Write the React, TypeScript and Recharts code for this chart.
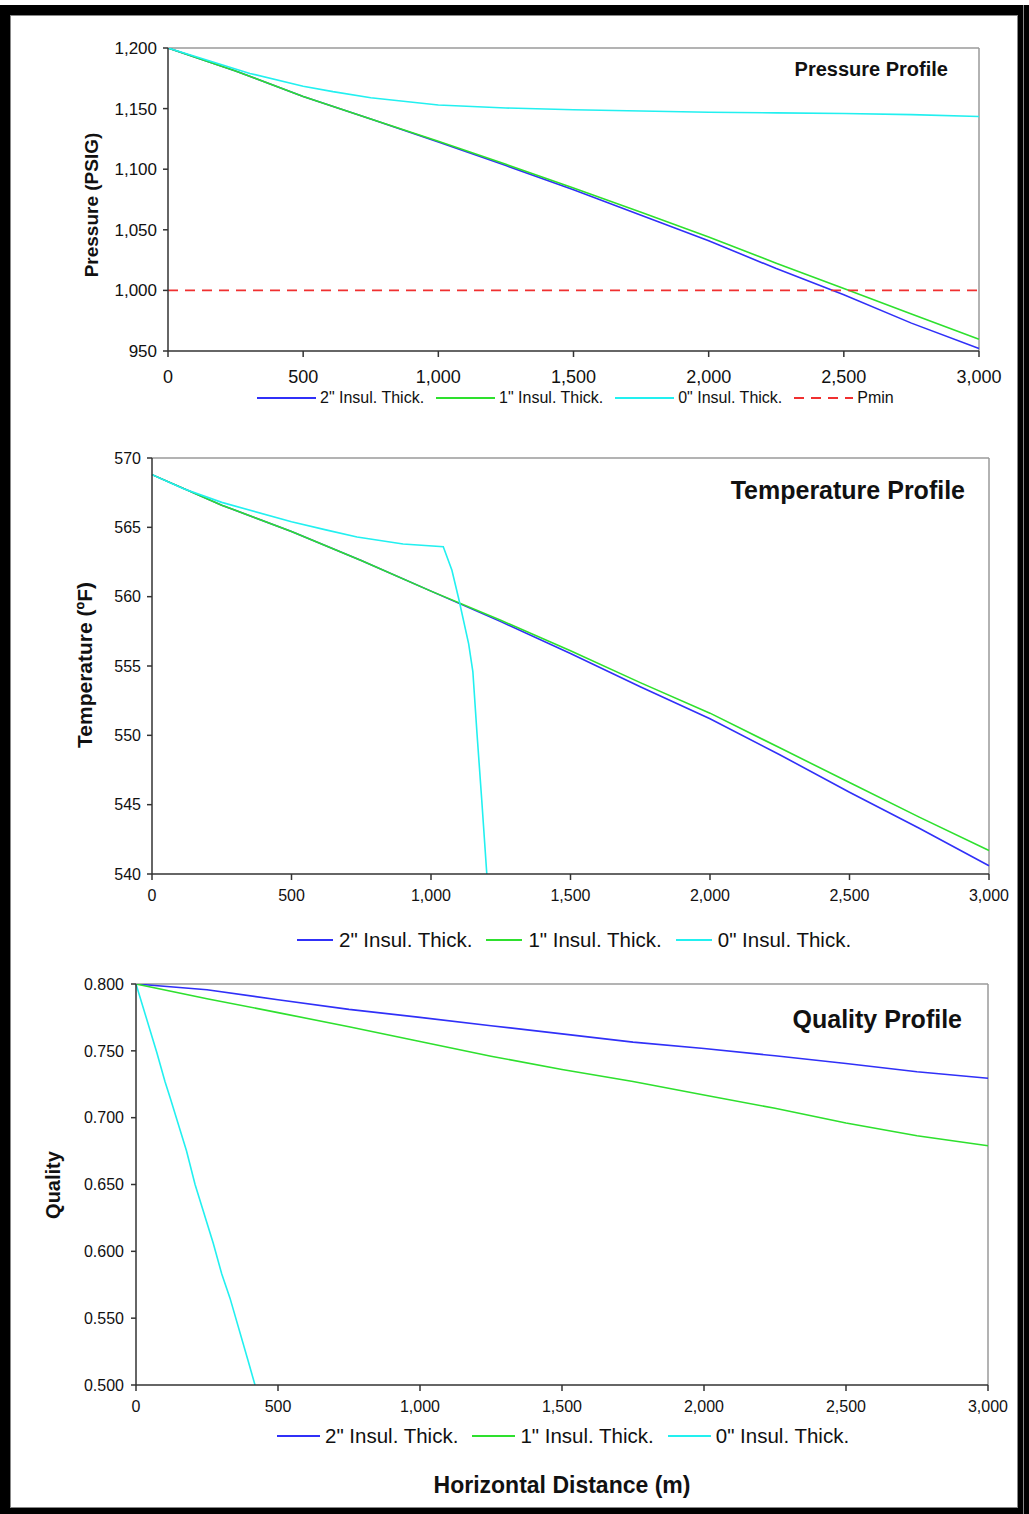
import React from 'react';
import { LineChart, Line, XAxis, YAxis, ReferenceLine } from 'recharts';

const FONT = '"Liberation Sans", Arial, Helvetica, sans-serif';

const BLUE = '#3030f8';
const GREEN = '#2ee02e';
const CYAN = '#22f0f0';
const RED = '#f03030';

// distance along the line (m)
const distance = [0, 250, 500, 750, 1000, 1250, 1500, 1750, 2000, 2250, 2500, 2750, 3000];
const xTicks = [0, 500, 1000, 1500, 2000, 2500, 3000];

// Pressure profile (PSIG)
const pressure2in = [1200, 1181, 1160, 1141.5, 1122.5, 1103, 1083, 1062, 1041, 1018, 996.5, 973, 952];
const pressure1in = [1200, 1181, 1160, 1141.5, 1123, 1104, 1084.5, 1064.5, 1044, 1022.5, 1001.5, 980.5, 959.6];
const pressure0inDist = [0, 303, 500, 610, 750, 1000, 1250, 1500, 1750, 2000, 2250, 2500, 2750, 3000];
const pressure0in = [1200, 1179, 1168.5, 1164, 1159, 1153, 1150.5, 1149, 1148, 1147, 1146.5, 1146, 1145, 1143.5];
const pminDist = [0, 3000];
const pmin = [1000, 1000];
const pressureTicks = [950, 1000, 1050, 1100, 1150, 1200];

// Temperature profile (ºF)
const temp2in = [568.8, 566.6, 564.7, 562.6, 560.4, 558.2, 555.9, 553.5, 551.2, 548.6, 545.9, 543.3, 540.6];
const temp1in = [568.8, 566.6, 564.7, 562.6, 560.4, 558.3, 556.1, 553.8, 551.6, 549.1, 546.6, 544.1, 541.7];
const temp0inDist = [0, 111, 250, 500, 627, 735, 900, 1044, 1075, 1100, 1135, 1150, 1165, 1182, 1200];
const temp0in = [568.8, 567.8, 566.8, 565.4, 564.8, 564.3, 563.8, 563.6, 561.9, 559.8, 556.6, 554.6, 550.1, 545.3, 540];
const tempTicks = [540, 545, 550, 555, 560, 565, 570];

// Quality profile
const quality2in = [0.8, 0.7957, 0.7882, 0.781, 0.775, 0.7688, 0.7627, 0.7565, 0.7517, 0.7463, 0.7405, 0.7343, 0.7295];
const quality1in = [0.8, 0.789, 0.7786, 0.768, 0.757, 0.746, 0.736, 0.727, 0.717, 0.707, 0.696, 0.6865, 0.679];
const quality0inDist = [0, 73, 102, 120, 178, 208, 272, 302, 331, 395, 419];
const quality0in = [0.8, 0.749, 0.727, 0.715, 0.675, 0.65, 0.606, 0.583, 0.565, 0.518, 0.5];
const qualityTicks = [0.5, 0.55, 0.6, 0.65, 0.7, 0.75, 0.8];

const seriesNames = ['2" Insul. Thick.', '1" Insul. Thick.', '0" Insul. Thick.'];

const toPoints = (xs: number[], ys: number[]) => xs.map((x, i) => ({ x, y: ys[i] }));
const comma = (v: number) => v.toLocaleString('en-US');

type Series = { name: string; color: string; dash?: string; data: { x: number; y: number }[] };

type ChartProps = {
  top: number;
  height: number;
  margin: { top: number; right: number; bottom: number; left: number };
  yDomain: [number, number];
  yTicks: number[];
  yFormat: (v: number) => string;
  series: Series[];
  yFont: number;
  xFont: number;
  xTickMargin: number;
  yTickMargin: number;
};

const ProfileChart = ({ top, height, margin, yDomain, yTicks, yFormat, series, yFont, xFont, xTickMargin, yTickMargin }: ChartProps) => (
  <div style={{ position: 'absolute', left: 0, top }}>
    <LineChart width={1029} height={height} margin={margin}>
      <XAxis
        type="number"
        dataKey="x"
        domain={[0, 3000]}
        ticks={xTicks}
        tickFormatter={comma}
        height={30}
        stroke="#333"
        strokeWidth={1.5}
        tickSize={6}
        tickMargin={xTickMargin}
        tick={{ fill: '#111', fontSize: xFont, fontFamily: FONT }}
      />
      <YAxis
        type="number"
        domain={yDomain}
        ticks={yTicks}
        tickFormatter={yFormat}
        width={60}
        stroke="#333"
        strokeWidth={1.5}
        tickSize={5}
        tickMargin={yTickMargin}
        tick={{ fill: '#111', fontSize: yFont, fontFamily: FONT }}
        allowDataOverflow
      />
      <ReferenceLine y={yDomain[1]} stroke="#9a9a9a" strokeWidth={1.5} />
      <ReferenceLine x={3000} stroke="#9a9a9a" strokeWidth={1.5} />
      {series.map((s) => (
        <Line
          key={s.name}
          data={s.data}
          dataKey="y"
          name={s.name}
          type="linear"
          stroke={s.color}
          strokeWidth={1.6}
          strokeDasharray={s.dash}
          dot={false}
          activeDot={false}
          isAnimationActive={false}
        />
      ))}
    </LineChart>
  </div>
);

type LegendProps = { series: Series[]; top: number; left: number; fontSize: number; lineLen: number; gap: number; itemGap: number };

const LegendRow = ({ series, top, left, fontSize, lineLen, gap, itemGap }: LegendProps) => (
  <div
    style={{
      position: 'absolute',
      left,
      top: top - fontSize / 2,
      height: fontSize,
      display: 'flex',
      alignItems: 'center',
      gap: itemGap,
      fontFamily: FONT,
      fontSize,
      lineHeight: `${fontSize}px`,
      color: '#111',
      whiteSpace: 'nowrap',
    }}
  >
    {series.map((s) => (
      <div key={s.name} style={{ display: 'flex', alignItems: 'center', gap }}>
        <svg width={lineLen} height={6}>
          <line x1={0} y1={3} x2={lineLen} y2={3} stroke={s.color} strokeWidth={1.8} strokeDasharray={s.dash} />
        </svg>
        <span>{s.name}</span>
      </div>
    ))}
  </div>
);

const Title = ({ text, right, cy, size }: { text: string; right: number; cy: number; size: number }) => (
  <div
    style={{
      position: 'absolute',
      right: 1029 - right,
      top: cy - size / 2,
      fontFamily: FONT,
      fontWeight: 'bold',
      fontSize: size,
      lineHeight: `${size}px`,
      color: '#111',
      whiteSpace: 'nowrap',
    }}
  >
    {text}
  </div>
);

const YLabel = ({ text, cx, cy, size }: { text: string; cx: number; cy: number; size: number }) => (
  <div
    style={{
      position: 'absolute',
      left: cx,
      top: cy,
      transform: 'translate(-50%, -50%) rotate(-90deg)',
      fontFamily: FONT,
      fontWeight: 'bold',
      fontSize: size,
      lineHeight: `${size}px`,
      color: '#111',
      whiteSpace: 'nowrap',
    }}
  >
    {text}
  </div>
);

const pressureSeries: Series[] = [
  { name: seriesNames[0], color: BLUE, data: toPoints(distance, pressure2in) },
  { name: seriesNames[1], color: GREEN, data: toPoints(distance, pressure1in) },
  { name: seriesNames[2], color: CYAN, data: toPoints(pressure0inDist, pressure0in) },
  { name: 'Pmin', color: RED, dash: '10 7', data: toPoints(pminDist, pmin) },
];

const tempSeries: Series[] = [
  { name: seriesNames[0], color: BLUE, data: toPoints(distance, temp2in) },
  { name: seriesNames[1], color: GREEN, data: toPoints(distance, temp1in) },
  { name: seriesNames[2], color: CYAN, data: toPoints(temp0inDist, temp0in) },
];

const qualitySeries: Series[] = [
  { name: seriesNames[0], color: BLUE, data: toPoints(distance, quality2in) },
  { name: seriesNames[1], color: GREEN, data: toPoints(distance, quality1in) },
  { name: seriesNames[2], color: CYAN, data: toPoints(quality0inDist, quality0in) },
];

export default function App() {
  return (
    <div style={{ position: 'absolute', left: 0, top: 0, width: 1029, height: 1514, background: '#fff', overflow: 'hidden' }}>
      {/* frame */}
      <div style={{ position: 'absolute', left: 0, top: 5, width: 1029, height: 1509, background: '#000' }} />
      <div style={{ position: 'absolute', left: 1023, top: 5, width: 1, height: 1509, background: '#888' }} />
      <div
        style={{
          position: 'absolute',
          left: 10,
          top: 15,
          width: 1008,
          height: 1493,
          background: '#fff',
          border: '1px solid #888',
          boxSizing: 'border-box',
        }}
      />

      {/* Pressure */}
      <ProfileChart
        top={0}
        height={415}
        margin={{ top: 48, right: 50, bottom: 34, left: 108 }}
        yDomain={[950, 1200]}
        yTicks={pressureTicks}
        yFormat={comma}
        series={pressureSeries}
        yFont={17}
        xFont={18}
        xTickMargin={13}
        yTickMargin={6}
      />
      <Title text="Pressure Profile" right={948} cy={69} size={20} />
      <YLabel text="Pressure (PSIG)" cx={91} cy={205} size={19} />
      <LegendRow series={pressureSeries} top={398} left={257} fontSize={16} lineLen={59} gap={4} itemGap={12} />

      {/* Temperature */}
      <ProfileChart
        top={440}
        height={470}
        margin={{ top: 18, right: 40, bottom: 6, left: 92 }}
        yDomain={[540, 570]}
        yTicks={tempTicks}
        yFormat={(v) => String(v)}
        series={tempSeries}
        yFont={16}
        xFont={16}
        xTickMargin={10}
        yTickMargin={6}
      />
      <Title text="Temperature Profile" right={965} cy={490} size={25} />
      <YLabel text="Temperature (ºF)" cx={84} cy={665} size={21} />
      <LegendRow series={tempSeries} top={940} left={297} fontSize={20.5} lineLen={36} gap={6} itemGap={14} />

      {/* Quality */}
      <ProfileChart
        top={960}
        height={460}
        margin={{ top: 24, right: 41, bottom: 5, left: 76 }}
        yDomain={[0.5, 0.8]}
        yTicks={qualityTicks}
        yFormat={(v) => v.toFixed(3)}
        series={qualitySeries}
        yFont={16}
        xFont={16}
        xTickMargin={10}
        yTickMargin={7}
      />
      <Title text="Quality Profile" right={962} cy={1019} size={25} />
      <YLabel text="Quality" cx={53} cy={1185} size={20} />
      <LegendRow series={qualitySeries} top={1436} left={277} fontSize={20.5} lineLen={43} gap={5} itemGap={14} />

      <div
        style={{
          position: 'absolute',
          left: 0,
          width: 1124,
          top: 1485 - 12,
          textAlign: 'center',
          fontFamily: FONT,
          fontWeight: 'bold',
          fontSize: 23,
          lineHeight: '24px',
          color: '#111',
        }}
      >
        Horizontal Distance (m)
      </div>
    </div>
  );
}
